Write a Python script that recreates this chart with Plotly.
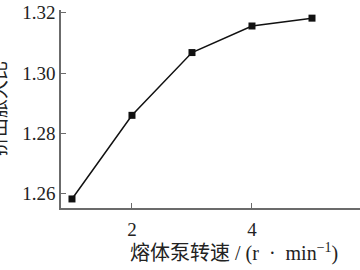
import plotly.graph_objects as go

speeds = [1, 2, 3, 4, 5]
swell_ratio = [1.2583, 1.2860, 1.3068, 1.3156, 1.3182]
x_ticks = [2, 4]
y_ticks = [1.26, 1.28, 1.30, 1.32]
y_tick_labels = ["1.26", "1.28", "1.30", "1.32"]
x_title = "熔体泵转速 / (r\u00a0\u00a0·\u00a0\u00a0min<sup>−1</sup>)"
y_title = "挤出胀大比"

serif = "Liberation Serif, Times New Roman, Noto Sans CJK SC, serif"
axis_col = "#6b6b6b"

fig = go.Figure()
fig.add_trace(go.Scatter(
    x=speeds, y=swell_ratio, mode="lines+markers",
    line=dict(color="#111111", width=1.5),
    marker=dict(symbol="square", size=7, color="#111111"),
    showlegend=False, cliponaxis=False,
))

fig.update_layout(
    width=360, height=270,
    margin=dict(l=61, r=0, t=10, b=62),
    paper_bgcolor="white", plot_bgcolor="white",
    font=dict(family=serif, size=19, color="#222222"),
    xaxis=dict(range=[0.817, 5.8], tickvals=x_ticks, ticks="inside", ticklen=5,
               tickcolor=axis_col, showline=True, linecolor=axis_col, linewidth=1.5,
               showgrid=False, zeroline=False, tickfont=dict(size=19),
               ticklabelstandoff=3),
    yaxis=dict(range=[1.2553, 1.3209], tickvals=y_ticks, ticktext=y_tick_labels,
               ticks="inside", ticklen=5, tickcolor=axis_col, showline=True,
               linecolor=axis_col, linewidth=1.5, showgrid=False, zeroline=False,
               tickfont=dict(size=19)),
    annotations=[
        dict(text=x_title, xref="paper", yref="paper", x=(234 - 61) / 299, y=-(252 - 208) / 198,
             xanchor="center", yanchor="middle", showarrow=False,
             font=dict(family=serif, size=20, color="#222222")),
        dict(text=y_title, xref="paper", yref="paper", x=(-1 - 61) / 299, y=0.5,
             xanchor="center", yanchor="middle", showarrow=False, textangle=-90,
             font=dict(family=serif, size=19, color="#222222")),
    ],
)

fig.write_html("out.html")
